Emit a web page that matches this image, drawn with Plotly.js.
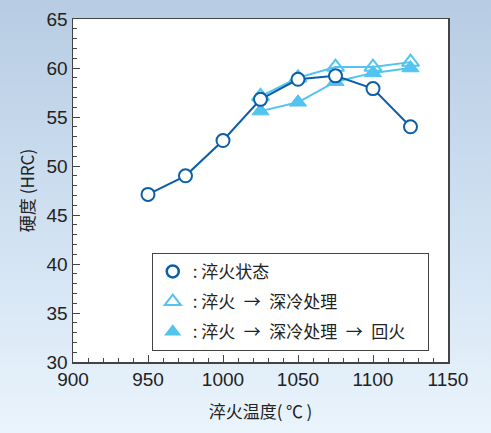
<!DOCTYPE html>
<html><head><meta charset="utf-8">
<script src="https://cdn.plot.ly/plotly-3.0.1.min.js"></script>
<style>
html,body{margin:0;padding:0;}
body{width:491px;height:433px;background:linear-gradient(to bottom,#b7cce3 0%,#cfe0f1 50%,#eaf4fc 100%);}
#chart{width:491px;height:433px;}
</style></head><body><div id="chart"></div>
<script>
const tempQ = [950, 975, 1000, 1025, 1050, 1075, 1100, 1125];
const hardQ = [47.1, 49.0, 52.6, 56.8, 58.85, 59.2, 57.9, 54.0];
const tempS = [1025, 1050, 1075, 1100, 1125];
const hardS = [57.1, 59.0, 60.1, 60.1, 60.6];
const tempT = [1025, 1050, 1075, 1100, 1125];
const hardT = [55.6, 56.5, 58.6, 59.5, 60.0];
const names = [': 淬火状态',
               ': 淬火\u2002\u2192\u2002深冷处理',
               ': 淬火\u2002\u2192\u2002深冷处理\u2002\u2192\u2002回火\u2003'];

const dark = '#0b5ea8', light = '#52c4ef';
const cjk = '"Noto Sans CJK SC", "Noto Sans", sans-serif';
const num = '"Liberation Sans", Arial, sans-serif';

const traces = [
  {x: tempT, y: hardT, mode: 'lines+markers', showlegend: false,
   line: {color: light, width: 2},
   marker: {symbol: 'triangle-up', size: 15, color: light, line: {color: light, width: 1}}},
  {x: tempS, y: hardS, mode: 'lines+markers', showlegend: false,
   line: {color: light, width: 2},
   marker: {symbol: 'triangle-up-open', size: 15, color: light, line: {color: light, width: 2}}},
  {x: tempQ, y: hardQ, mode: 'lines+markers', showlegend: false,
   line: {color: dark, width: 2},
   marker: {symbol: 'circle', size: 13, color: '#ffffff', line: {color: dark, width: 2}}},
  {x: [null], y: [null], mode: 'markers', name: names[0], legendgroup: 'a',
   marker: {symbol: 'circle-open', size: 12, color: dark, line: {width: 2.5}}},
  {x: [null], y: [null], mode: 'markers', name: names[1], legendgroup: 'b',
   marker: {symbol: 'triangle-up-open', size: 14, color: light, line: {width: 2}}},
  {x: [null], y: [null], mode: 'markers', name: names[2], legendgroup: 'c',
   marker: {symbol: 'triangle-up', size: 15, color: light}}
];

const layout = {
  width: 491, height: 433,
  margin: {l: 73, r: 43, t: 19, b: 71},
  paper_bgcolor: 'rgba(0,0,0,0)',
  plot_bgcolor: '#ffffff',
  font: {family: cjk, color: '#222'},
  xaxis: {
    range: [900, 1150], dtick: 50, tick0: 900,
    showgrid: false, zeroline: false,
    showline: true, linecolor: '#444', linewidth: 1.5, mirror: true,
    ticks: 'inside', ticklen: 7, tickcolor: '#444', tickwidth: 1,
    tickfont: {family: num, size: 19, color: '#222'},
    minor: {dtick: 10, ticks: 'inside', ticklen: 4, tickcolor: '#444', showgrid: false},
    title: {text: '淬火温度(\u2009℃\u2009)', font: {family: cjk, size: 17, color: '#222'}, standoff: 17}
  },
  yaxis: {
    range: [30, 65], dtick: 5, tick0: 30,
    showgrid: false, zeroline: false,
    showline: true, linecolor: '#444', linewidth: 1.5, mirror: true,
    ticks: 'inside', ticklen: 7, tickcolor: '#444', tickwidth: 1,
    tickfont: {family: num, size: 19, color: '#222'},
    minor: {dtick: 1, ticks: 'inside', ticklen: 4, tickcolor: '#444', showgrid: false},
    title: {text: '硬度 (HRC)', font: {family: cjk, size: 17, color: '#222'}, standoff: 7}
  },
  legend: {
    x: 0.21, y: 0.318, xanchor: 'left', yanchor: 'top',
    bgcolor: '#ffffff', bordercolor: '#444', borderwidth: 1,
    font: {family: cjk, size: 17, color: '#222'},
    itemwidth: 30, tracegroupgap: 5
  }
};

Plotly.newPlot('chart', traces, layout, {displayModeBar: false, staticPlot: true});
</script></body></html>
